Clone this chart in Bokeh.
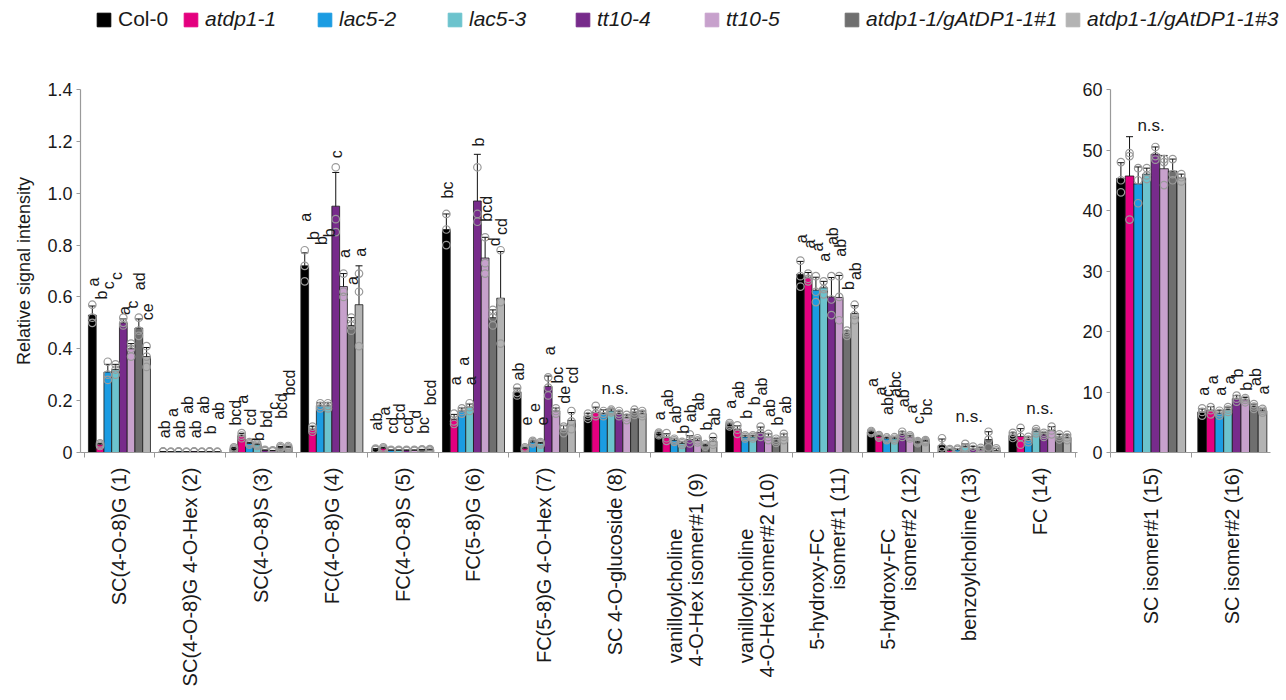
from math import pi
from bokeh.plotting import figure
from bokeh.models import (Range1d, FixedTicker, ColumnDataSource, Whisker, TeeHead,
                          Legend, LegendItem, PrintfTickFormatter)
from bokeh.layouts import row, column
from bokeh.embed import file_html
from bokeh.resources import INLINE
from bokeh.core.properties import value

FONT = "Liberation Sans"
NB = "\u00a0" * 11   # trailing padding so the short first line sits at the label start

# ---------------- data ----------------
genotypes = ["Col-0", "atdp1-1", "lac5-2", "lac5-3", "tt10-4", "tt10-5",
             "atdp1-1/gAtDP1-1#1", "atdp1-1/gAtDP1-1#3"]
colors = ["#000000", "#E4007F", "#1B9CE2", "#6CC3CD", "#772B8B", "#C7A1CC", "#6F6F6F", "#B3B3B3"]

compounds_left = ["SC(4-O-8)G (1)", "SC(4-O-8)G 4-O-Hex (2)", "SC(4-O-8)S (3)", "FC(4-O-8)G (4)",
                  "FC(4-O-8)S (5)", "FC(5-8)G (6)", "FC(5-8)G 4-O-Hex (7)", "SC 4-O-glucoside (8)",
                  "vanilloylcholine" + NB + "\n4-O-Hex  isomer#1 (9)",
                  "vanilloylcholine" + NB + "\n4-O-Hex  isomer#2 (10)",
                  "5-hydroxy-FC" + NB + "\nisomer#1 (11)", "5-hydroxy-FC" + NB + "\nisomer#2 (12)",
                  "benzoylcholine (13)", "FC (14)"]
compounds_right = ["SC isomer#1 (15)", "SC isomer#2 (16)"]

means_left = [
    [0.53, 0.03, 0.31, 0.32, 0.50, 0.40, 0.48, 0.37],
    [0.003, 0.002, 0.003, 0.002, 0.003, 0.002, 0.003, 0.002],
    [0.015, 0.065, 0.035, 0.03, 0.008, 0.006, 0.02, 0.02],
    [0.72, 0.09, 0.18, 0.18, 0.95, 0.64, 0.49, 0.57],
    [0.012, 0.015, 0.008, 0.008, 0.008, 0.008, 0.01, 0.01],
    [0.86, 0.127, 0.16, 0.175, 0.97, 0.75, 0.52, 0.595],
    [0.233, 0.015, 0.04, 0.035, 0.255, 0.16, 0.09, 0.124],
    [0.14, 0.155, 0.15, 0.16, 0.15, 0.135, 0.155, 0.15],
    [0.072, 0.057, 0.047, 0.035, 0.05, 0.047, 0.027, 0.043],
    [0.107, 0.088, 0.06, 0.06, 0.078, 0.06, 0.045, 0.06],
    [0.687, 0.674, 0.626, 0.635, 0.60, 0.598, 0.459, 0.536],
    [0.079, 0.062, 0.053, 0.053, 0.07, 0.06, 0.04, 0.044],
    [0.027, 0.008, 0.01, 0.023, 0.013, 0.01, 0.05, 0.008],
    [0.066, 0.062, 0.05, 0.082, 0.068, 0.085, 0.06, 0.058],
]
sd_left = [
    [0.035, 0.005, 0.03, 0.02, 0.015, 0.02, 0.035, 0.035],
    [0.001, 0.001, 0.001, 0.001, 0.001, 0.001, 0.001, 0.001],
    [0.004, 0.008, 0.003, 0.003, 0.002, 0.002, 0.003, 0.004],
    [0.05, 0.01, 0.012, 0.012, 0.13, 0.05, 0.03, 0.15],
    [0.003, 0.004, 0.002, 0.002, 0.002, 0.002, 0.002, 0.003],
    [0.06, 0.02, 0.012, 0.012, 0.18, 0.08, 0.03, 0.18],
    [0.015, 0.005, 0.005, 0.004, 0.04, 0.012, 0.015, 0.03],
    [0.01, 0.02, 0.015, 0.008, 0.01, 0.01, 0.012, 0.01],
    [0.005, 0.015, 0.006, 0.006, 0.015, 0.008, 0.005, 0.015],
    [0.006, 0.015, 0.006, 0.006, 0.02, 0.012, 0.008, 0.012],
    [0.05, 0.02, 0.05, 0.025, 0.075, 0.085, 0.01, 0.03],
    [0.004, 0.005, 0.005, 0.006, 0.01, 0.006, 0.004, 0.004],
    [0.025, 0.005, 0.005, 0.01, 0.01, 0.008, 0.03, 0.008],
    [0.01, 0.03, 0.01, 0.008, 0.008, 0.015, 0.01, 0.01],
]
reps_left = [
    [[0.57, 0.52, 0.50], [0.035, 0.03, 0.025], [0.35, 0.30, 0.28], [0.34, 0.32, 0.30],
     [0.52, 0.50, 0.49], [0.42, 0.40, 0.37], [0.52, 0.47, 0.45], [0.41, 0.37, 0.33]],
    [[0.004, 0.003, 0.002], [0.003, 0.002, 0.001], [0.004, 0.003, 0.002], [0.003, 0.002, 0.001],
     [0.004, 0.003, 0.002], [0.003, 0.002, 0.001], [0.004, 0.003, 0.002], [0.003, 0.002, 0.001]],
    [[0.02, 0.015, 0.01], [0.075, 0.065, 0.055], [0.04, 0.035, 0.03], [0.035, 0.03, 0.025],
     [0.01, 0.008, 0.005], [0.008, 0.006, 0.004], [0.025, 0.02, 0.016], [0.025, 0.02, 0.015]],
    [[0.78, 0.72, 0.66], [0.10, 0.09, 0.08], [0.19, 0.18, 0.17], [0.19, 0.18, 0.17],
     [1.10, 0.90, 0.85], [0.69, 0.62, 0.60], [0.52, 0.49, 0.47], [0.69, 0.62, 0.41]],
    [[0.015, 0.012, 0.01], [0.02, 0.015, 0.01], [0.01, 0.008, 0.006], [0.01, 0.008, 0.006],
     [0.01, 0.008, 0.006], [0.01, 0.008, 0.006], [0.012, 0.01, 0.008], [0.013, 0.01, 0.007]],
    [[0.92, 0.86, 0.80], [0.15, 0.12, 0.11], [0.17, 0.16, 0.15], [0.19, 0.175, 0.16],
     [1.10, 0.92, 0.89], [0.83, 0.73, 0.69], [0.55, 0.52, 0.49], [0.78, 0.58, 0.42]],
    [[0.25, 0.23, 0.22], [0.02, 0.015, 0.01], [0.045, 0.04, 0.035], [0.04, 0.035, 0.03],
     [0.29, 0.25, 0.22], [0.17, 0.16, 0.15], [0.10, 0.09, 0.075], [0.16, 0.12, 0.09]],
    [[0.15, 0.14, 0.13], [0.18, 0.15, 0.14], [0.16, 0.15, 0.14], [0.165, 0.16, 0.155],
     [0.16, 0.15, 0.14], [0.145, 0.135, 0.125], [0.165, 0.155, 0.145], [0.16, 0.15, 0.14]],
    [[0.077, 0.072, 0.067], [0.075, 0.055, 0.045], [0.053, 0.047, 0.041], [0.041, 0.035, 0.029],
     [0.07, 0.05, 0.035], [0.055, 0.047, 0.039], [0.032, 0.027, 0.022], [0.06, 0.04, 0.03]],
    [[0.113, 0.107, 0.101], [0.105, 0.088, 0.072], [0.066, 0.06, 0.054], [0.066, 0.06, 0.054],
     [0.10, 0.075, 0.06], [0.072, 0.06, 0.048], [0.053, 0.045, 0.037], [0.072, 0.06, 0.048]],
    [[0.74, 0.68, 0.64], [0.69, 0.67, 0.66], [0.68, 0.62, 0.58], [0.66, 0.63, 0.61],
     [0.68, 0.59, 0.53], [0.68, 0.60, 0.51], [0.47, 0.46, 0.45], [0.57, 0.53, 0.51]],
    [[0.083, 0.079, 0.075], [0.067, 0.062, 0.057], [0.058, 0.053, 0.048], [0.059, 0.053, 0.047],
     [0.08, 0.07, 0.06], [0.066, 0.06, 0.054], [0.044, 0.04, 0.036], [0.048, 0.044, 0.04]],
    [[0.055, 0.02, 0.005], [0.013, 0.008, 0.002], [0.015, 0.01, 0.002], [0.033, 0.02, 0.015],
     [0.023, 0.013, 0.003], [0.018, 0.01, 0.002], [0.08, 0.05, 0.02], [0.016, 0.008, 0.001]],
    [[0.076, 0.066, 0.056], [0.095, 0.06, 0.03], [0.06, 0.05, 0.04], [0.09, 0.082, 0.074],
     [0.076, 0.068, 0.06], [0.10, 0.085, 0.07], [0.07, 0.06, 0.05], [0.068, 0.058, 0.048]],
]
letters_left = [
    ["a", "b", "c", "c", "a", "c", "ad", "ce"],
    ["ab", "a", "ab", "ab", "ab", "ab", "b", "ab"],
    ["bcd", "a", "cd", "b", "bd", "c", "bcd", "bcd"],
    ["a", "b", "b", "b", "c", "a", "a", "a"],
    ["ab", "a", "cd", "cd", "cd", "d", "bc", "bcd"],
    ["bc", "a", "a", "a", "b", "bcd", "d", "cd"],
    ["ab", "e", "e", "e", "a", "bc", "de", "cd"],
    None,
    ["a", "ab", "ab", "b", "ab", "ab", "b", "ab"],
    ["a", "ab", "b", "b", "ab", "ab", "b", "ab"],
    ["a", "a", "a", "a", "ab", "ab", "b", "ab"],
    ["a", "a", "abc", "abc", "ab", "a", "c", "bc"],
    None,
    None,
]
letter_y_left = [
    [0.64, 0.59, 0.63, 0.665, 0.53, 0.555, 0.626, 0.51],
    [0.055, 0.137, 0.055, 0.149, 0.055, 0.149, 0.07, 0.126],
    [0.104, 0.188, 0.104, 0.044, 0.095, 0.165, 0.13, 0.22],
    [0.89, 0.82, 0.80, 0.83, 1.135, 0.75, 0.646, 0.755],
    [0.085, 0.143, 0.072, 0.124, 0.072, 0.13, 0.072, 0.182],
    [0.98, 0.259, 0.335, 0.259, 1.18, 0.89, 0.795, 0.839],
    [0.278, 0.104, 0.156, 0.104, 0.375, 0.266, 0.188, 0.266],
    None,
    [0.124, 0.175, 0.112, 0.072, 0.117, 0.162, 0.085, 0.104],
    [0.169, 0.207, 0.13, 0.182, 0.22, 0.137, 0.104, 0.149],
    [0.807, 0.787, 0.775, 0.736, 0.80, 0.755, 0.627, 0.665],
    [0.253, 0.22, 0.145, 0.214, 0.175, 0.15, 0.11, 0.143],
    None,
    None,
]
ns_left = {7: 0.247, 12: 0.14, 13: 0.17}

means_right = [
    [45.3, 45.7, 44.4, 46.0, 49.3, 46.9, 46.5, 45.4],
    [6.7, 7.0, 6.5, 7.1, 8.9, 8.7, 7.6, 6.9],
]
sd_right = [
    [2.6, 6.5, 2.8, 1.0, 1.2, 2.2, 2.0, 0.6],
    [0.5, 0.6, 0.4, 0.4, 0.5, 0.4, 0.4, 0.3],
]
reps_right = [
    [[48.0, 45.0, 43.0], [49.5, 49.0, 38.5], [47.0, 45.0, 41.2], [47.0, 45.8, 45.2],
     [50.5, 49.0, 48.4], [48.5, 48.0, 44.2], [48.5, 46.0, 45.0], [46.0, 45.5, 44.8]],
    [[7.3, 6.7, 6.1], [7.5, 7.0, 6.3], [6.9, 6.5, 6.1], [7.5, 7.1, 6.7],
     [9.4, 8.9, 8.4], [9.0, 8.7, 8.3], [8.0, 7.6, 7.2], [7.2, 6.9, 6.6]],
]
letters_right = [None, ["a", "a", "a", "a", "b", "b", "ab", "a"]]
letter_y_right = [None, [9.4, 11.3, 9.4, 11.3, 12.4, 10.2, 11.0, 9.6]]
ns_right = {0: 54.1}

legend_x = [95, 182, 316, 446, 574, 703, 843, 1064]   # legend swatch positions (px)

# ---------------- helpers ----------------
AXIS_COL = "#9a9a9a"
TXT_COL = "#1a1a1a"


def build_panel(p, compounds, means, sds, reps, letters, letter_y, ns, group_w):
    n = len(compounds)
    bw = group_w / 8.0
    bx, bt, bc, lo, up = [], [], [], [], []
    px, py = [], []
    tx, ty, tt = [], [], []
    for i in range(n):
        for g in range(8):
            x = i + 0.5 + (g - 3.5) * bw
            m = means[i][g]
            s = sds[i][g]
            bx.append(x); bt.append(m); bc.append(colors[g])
            lo.append(max(m - s, 0)); up.append(m + s)
            for r in reps[i][g]:
                px.append(x); py.append(r)
            if letters[i] is not None:
                tx.append(x + bw * 0.15); ty.append(letter_y[i][g]); tt.append(letters[i][g])
    src = ColumnDataSource(dict(x=bx, top=bt, color=bc, lower=lo, upper=up))
    p.vbar(x="x", top="top", width=bw, fill_color="color", line_color="#1a1a1a",
           line_width=0.8, source=src)
    p.scatter(x=px, y=py, marker="circle", size=7.5, fill_alpha=0,
              line_color="#9a9a9a", line_width=1.2)
    w = Whisker(source=src, base="x", upper="upper", lower="lower",
                line_color="#111111", line_width=1,
                upper_head=TeeHead(size=7, line_color="#111111", line_width=1),
                lower_head=TeeHead(size=7, line_color="#111111", line_width=1))
    p.add_layout(w)
    p.text(x=tx, y=ty, text=tt, angle=pi / 2, text_align="left", text_baseline="middle",
           text_font=value(FONT), text_font_size="16px", text_color=TXT_COL)
    nx = [k + 0.5 for k in ns]
    ny = [ns[k] for k in ns]
    p.text(x=nx, y=ny, text=["n.s."] * len(nx), text_align="center",
           text_baseline="alphabetic", text_font=value(FONT), text_font_size="17px",
           text_color=TXT_COL)

    centers = [i + 0.5 for i in range(n)]
    p.xaxis.ticker = FixedTicker(ticks=centers, minor_ticks=list(range(n + 1)))
    p.xaxis.major_label_overrides = {c: lab for c, lab in zip(centers, compounds)}
    p.xaxis.major_label_orientation = pi / 2
    p.xaxis.major_tick_out = 0
    p.xaxis.major_tick_in = 0
    p.xaxis.minor_tick_out = 5
    p.xaxis.minor_tick_in = 0
    p.xaxis.minor_tick_line_color = AXIS_COL
    p.xaxis.major_label_text_font = FONT
    p.xaxis.major_label_text_font_size = "20px"
    p.xaxis.major_label_text_color = TXT_COL
    p.xaxis.major_label_text_line_height = 0.95
    p.xaxis.major_label_standoff = 10
    for ax in (p.xaxis, p.yaxis):
        ax.axis_line_color = AXIS_COL
        ax.axis_line_width = 1.2
    p.yaxis.major_tick_out = 4
    p.yaxis.major_tick_in = 0
    p.yaxis.minor_tick_out = 0
    p.yaxis.minor_tick_in = 0
    p.yaxis.major_tick_line_color = AXIS_COL
    p.yaxis.major_label_text_font = FONT
    p.yaxis.major_label_text_font_size = "18px"
    p.yaxis.major_label_text_color = TXT_COL
    p.yaxis.major_label_standoff = 4
    p.xgrid.visible = False
    p.ygrid.visible = False
    p.outline_line_color = None


# ---------------- left panel ----------------
p1 = figure(width=1078, height=636, x_range=Range1d(-0.05, 14.03), y_range=Range1d(0, 1.4),
            output_backend="svg", toolbar_location=None,
            min_border_left=80, min_border_right=1, min_border_top=33, min_border_bottom=240)
build_panel(p1, compounds_left, means_left, sd_left, reps_left, letters_left, letter_y_left,
            ns_left, 0.876)
p1.yaxis.ticker = FixedTicker(ticks=[0, 0.2, 0.4, 0.6, 0.8, 1.0, 1.2, 1.4])
p1.yaxis.formatter = PrintfTickFormatter(format="%.1f")
p1.yaxis.major_label_overrides = {0: "0"}
p1.yaxis.axis_label = "Relative signal intensity"
p1.yaxis.axis_label_text_font = FONT
p1.yaxis.axis_label_text_font_size = "18px"
p1.yaxis.axis_label_text_font_style = "normal"
p1.yaxis.axis_label_text_color = TXT_COL
p1.yaxis.axis_label_standoff = 10

# ---------------- right panel ----------------
p2 = figure(width=200, height=636, x_range=Range1d(0, 1.97), y_range=Range1d(0, 60),
            output_backend="svg", toolbar_location=None,
            min_border_left=32, min_border_right=8, min_border_top=30, min_border_bottom=240)
build_panel(p2, compounds_right, means_right, sd_right, reps_right, letters_right,
            letter_y_right, ns_right, 0.85)
p2.yaxis.ticker = FixedTicker(ticks=[0, 10, 20, 30, 40, 50, 60])

# ---------------- legend strip ----------------
pl = figure(width=1286, height=56, x_range=Range1d(0, 1), y_range=Range1d(0, 1),
            output_backend="svg", toolbar_location=None, min_border=0,
            x_axis_location=None, y_axis_location=None)
pl.xgrid.visible = False
pl.ygrid.visible = False
pl.outline_line_color = None
for g, (name, col, lx) in enumerate(zip(genotypes, colors, legend_x)):
    r = pl.vbar(x=[-5], top=[-5], width=0.1, fill_color=col, line_color=col)
    leg = Legend(items=[LegendItem(label=name, renderers=[r], index=0)], location=(lx, 25),
                 orientation="horizontal", glyph_width=17, glyph_height=17, label_height=17,
                 label_standoff=6, padding=0, margin=0, spacing=0,
                 border_line_alpha=0, background_fill_alpha=0,
                 label_text_font=FONT, label_text_font_size="21px",
                 label_text_color=TXT_COL,
                 label_text_font_style="normal" if g == 0 else "italic")
    pl.add_layout(leg)

layout = column(pl, row(p1, p2))
open("out.html", "w").write(file_html(layout, INLINE))
